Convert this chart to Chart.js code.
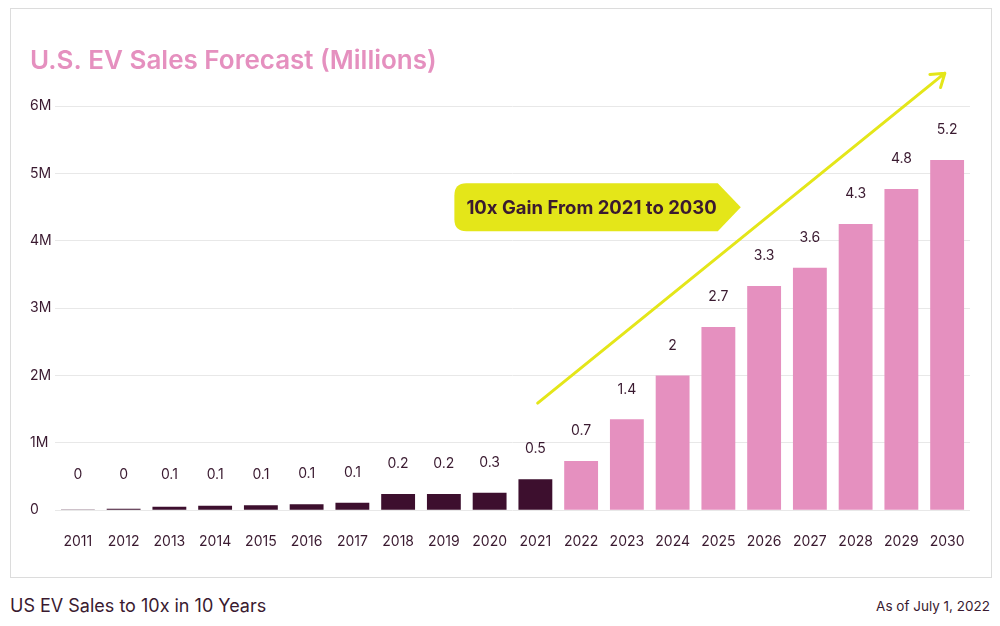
<!DOCTYPE html>
<html>
<head>
<meta charset="utf-8">
<script src="https://cdn.jsdelivr.net/npm/chart.js@4/dist/chart.umd.min.js"></script>
<style>
  body { margin: 0; background: #fff; font-family: Inter, "Noto Sans", sans-serif; color: #3a1a30; }
  #card { position: absolute; left: 10px; top: 8px; width: 980px; height: 568px; border: 1px solid #dcdcdc; }
  #foot1 { position: absolute; left: 10px; top: 595px; font-size: 18px; }
  #foot2 { position: absolute; right: 10px; top: 598px; font-size: 13.5px; }
</style>
</head>
<body>
<div id="card"><canvas id="myCanvas" width="980" height="568"></canvas></div>
<div id="foot1">US EV Sales to 10x in 10 Years</div>
<div id="foot2">As of July 1, 2022</div>
<script>
'use strict';

// data
const years = ['2011', '2012', '2013', '2014', '2015', '2016', '2017', '2018', '2019', '2020',
  '2021', '2022', '2023', '2024', '2025', '2026', '2027', '2028', '2029', '2030'];
const sales = [0.01, 0.02, 0.05, 0.065, 0.075, 0.09, 0.11, 0.24, 0.24, 0.26,
  0.46, 0.73, 1.35, 2.0, 2.72, 3.33, 3.6, 4.25, 4.77, 5.2];
const valueLabels = ['0', '0', '0.1', '0.1', '0.1', '0.1', '0.1', '0.2', '0.2', '0.3',
  '0.5', '0.7', '1.4', '2', '2.7', '3.3', '3.6', '4.3', '4.8', '5.2'];
const yTicks = [0, 1, 2, 3, 4, 5, 6];
const calloutText = '10x Gain From 2021 to 2030';

const DARK = '#3d0f2e';
const PINK = '#e590bf';
const YELLOW = '#e4e619';
const TEXT = '#3a1a30';
const FONT = 'Inter, "Noto Sans", sans-serif';

// bars up to 2021 are actuals (dark), the rest forecast (pink)
const barColors = years.map(y => (+y <= 2021 ? DARK : PINK));

// value labels above each bar
const valueLabelPlugin = {
  id: 'valueLabels',
  afterDatasetsDraw(chart) {
    const ctx = chart.ctx;
    const meta = chart.getDatasetMeta(0);
    ctx.save();
    ctx.font = '14px ' + FONT;
    ctx.fillStyle = TEXT;
    ctx.textAlign = 'center';
    ctx.textBaseline = 'middle';
    meta.data.forEach((bar, i) => {
      const top = Math.min(bar.y, bar.base - 5);
      ctx.fillText(valueLabels[i], bar.x, top - 30);
    });
    ctx.restore();
  }
};

// yellow trend arrow + callout tag, placed in data units
const calloutPlugin = {
  id: 'callout',
  afterDatasetsDraw(chart) {
    const ctx = chart.ctx;
    const xs = chart.scales.x;
    const ys = chart.scales.y;

    // arrow
    const x1 = xs.getPixelForValue(10.05), y1 = ys.getPixelForValue(1.59);
    const x2 = xs.getPixelForValue(18.95), y2 = ys.getPixelForValue(6.49);
    ctx.save();
    ctx.strokeStyle = YELLOW;
    ctx.lineWidth = 3;
    ctx.lineCap = 'round';
    ctx.lineJoin = 'round';
    ctx.beginPath();
    ctx.moveTo(x1, y1);
    ctx.lineTo(x2, y2);
    const ang = Math.atan2(y2 - y1, x2 - x1);
    const head = 15;
    ctx.moveTo(x2 - head * Math.cos(ang - 0.6), y2 - head * Math.sin(ang - 0.6));
    ctx.lineTo(x2, y2);
    ctx.lineTo(x2 - head * Math.cos(ang + 0.6), y2 - head * Math.sin(ang + 0.6));
    ctx.stroke();

    // tag
    const left = xs.getPixelForValue(8.23);
    const tip = xs.getPixelForValue(14.49);
    const cy = ys.getPixelForValue(4.5);
    const h = 48, r = 12, point = 23;
    const top = cy - h / 2, bot = cy + h / 2;
    ctx.fillStyle = YELLOW;
    ctx.beginPath();
    ctx.moveTo(left + r, top);
    ctx.lineTo(tip - point, top);
    ctx.lineTo(tip, cy);
    ctx.lineTo(tip - point, bot);
    ctx.lineTo(left + r, bot);
    ctx.quadraticCurveTo(left, bot, left, bot - r);
    ctx.lineTo(left, top + r);
    ctx.quadraticCurveTo(left, top, left + r, top);
    ctx.fill();

    ctx.fillStyle = TEXT;
    ctx.font = 'bold 18.5px ' + FONT;
    ctx.textAlign = 'left';
    ctx.textBaseline = 'middle';
    ctx.fillText(calloutText, left + 12, cy + 1);
    ctx.restore();
  }
};

const ctx = document.getElementById('myCanvas').getContext('2d');

new Chart(ctx, {
  type: 'bar',
  data: {
    labels: years,
    datasets: [{
      data: sales,
      backgroundColor: barColors,
      barPercentage: 0.74,
      categoryPercentage: 1
    }]
  },
  options: {
    responsive: false,
    animation: false,
    layout: { padding: { left: 19, right: 21, top: 0, bottom: 12 } },
    plugins: {
      legend: { display: false },
      tooltip: { enabled: false },
      title: {
        display: true,
        text: 'U.S. EV Sales Forecast (Millions)',
        align: 'start',
        color: PINK,
        font: { family: FONT, size: 26, weight: '600' },
        padding: { top: 37, bottom: 29 }
      }
    },
    scales: {
      x: {
        grid: { display: false },
        border: { display: false },
        ticks: { color: TEXT, font: { family: FONT, size: 14 }, padding: 15, maxRotation: 0 }
      },
      y: {
        min: 0,
        max: 6,
        afterBuildTicks(axis) { axis.ticks = yTicks.map(v => ({ value: v })); },
        afterFit(axis) { axis.width = 25; },
        grid: { color: '#e8e8e8', drawTicks: false },
        border: { display: false },
        ticks: {
          color: TEXT,
          font: { family: FONT, size: 14 },
          crossAlign: 'far',
          padding: 8,
          callback: v => (v === 0 ? '0' : v + 'M')
        }
      }
    }
  },
  plugins: [valueLabelPlugin, calloutPlugin]
});
</script>
</body>
</html>
